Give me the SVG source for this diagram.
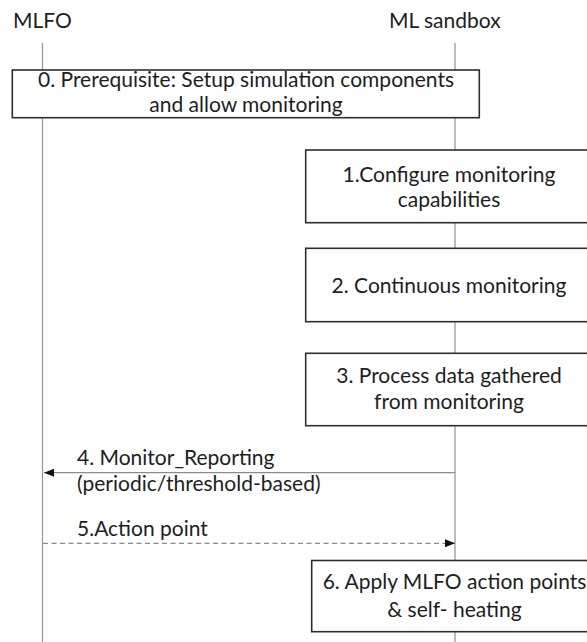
<svg xmlns="http://www.w3.org/2000/svg" width="587" height="642" viewBox="0 0 587 642">
  <style>
    text { font-family: Lato, "Open Sans", "Liberation Sans", sans-serif; font-size: 21px; fill: #1e1e1e; }
    .mid { text-anchor: middle; }
    .life { stroke: #9a9a9a; stroke-width: 1.3; fill: none; }
    .box { fill: #ffffff; stroke: #2e2e2e; stroke-width: 1.6; }
    .msg { stroke: #8c8c8c; stroke-width: 1.3; fill: none; }
    .dash { stroke-dasharray: 5 3.5; }
  </style>
  <defs>
    <marker id="head" viewBox="0 0 10 8" refX="10" refY="4" markerWidth="10" markerHeight="8" markerUnits="userSpaceOnUse" orient="auto">
      <path d="M0,0 L10,4 L0,8 Z" fill="#111111"/>
    </marker>
  </defs>

  <!-- lifelines -->
  <g id="lifelines">
    <g id="mlfo">
      <text x="13" y="28">MLFO</text>
      <line class="life" x1="42.5" y1="43" x2="42.5" y2="642"/>
    </g>
    <g id="ml-sandbox">
      <text x="389" y="28">ML sandbox</text>
      <line class="life" x1="455" y1="43" x2="455" y2="642"/>
    </g>
  </g>

  <!-- messages between the two lifelines -->
  <g id="connectors">
    <line class="msg" x1="455" y1="472.7" x2="44" y2="472.7" marker-end="url(#head)"/>
    <line class="msg dash" x1="43" y1="543.3" x2="455" y2="543.3" marker-end="url(#head)"/>
  </g>

  <g id="step4-label">
    <text x="77" y="465">4. Monitor_Reporting</text>
    <text x="77" y="491">(periodic/threshold-based)</text>
  </g>
  <g id="step5-label">
    <text x="77" y="536">5.Action point</text>
  </g>

  <g id="step0">
    <rect class="box" x="12.3" y="70" width="467" height="47.7"/>
    <text class="mid" x="246" y="87.3">0. Prerequisite: Setup simulation components</text>
    <text class="mid" x="246" y="112">and allow monitoring</text>
  </g>

  <g id="step1">
    <rect class="box" x="305.7" y="150" width="290" height="72.7"/>
    <text class="mid" x="449" y="181.7">1.Configure monitoring</text>
    <text class="mid" x="449" y="206.7">capabilities</text>
  </g>

  <g id="step2">
    <rect class="box" x="305.7" y="248.3" width="290" height="73.4"/>
    <text class="mid" x="449" y="293.3">2. Continuous monitoring</text>
  </g>

  <g id="step3">
    <rect class="box" x="305.7" y="353.3" width="290" height="72.4"/>
    <text class="mid" x="449" y="383.3">3. Process data gathered</text>
    <text class="mid" x="449" y="409.3">from monitoring</text>
  </g>

  <g id="step6">
    <rect class="box" x="311.7" y="560.5" width="290" height="71.2"/>
    <text class="mid" x="454.5" y="589.3">6. Apply MLFO action points</text>
    <text class="mid" x="454.5" y="616.7">&amp; self- heating</text>
  </g>
</svg>
